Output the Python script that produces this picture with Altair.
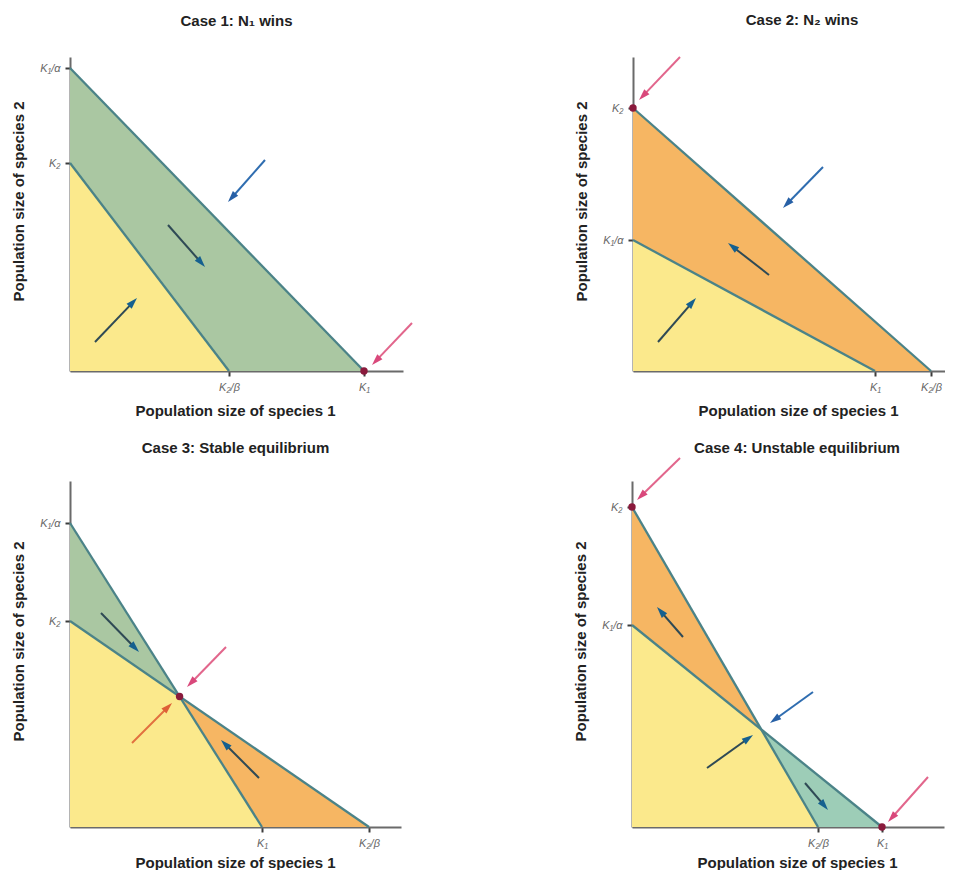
import math
import altair as alt
import pandas as pd

# ---------------- data (arbitrary population units) ----------------
TITLES = ["Case 1: N₁ wins", "Case 2: N₂ wins",
          "Case 3: Stable equilibrium", "Case 4: Unstable equilibrium"]
K1 = [294, 242, 192, 250]         # N1 isocline meets x axis
K1_ALPHA = [303, 131, 304, 202]   # N1 isocline meets y axis
K2 = [208, 263, 206, 320]         # N2 isocline meets y axis
K2_BETA = [159, 298, 299, 186]    # N2 isocline meets x axis
X_MAX = [333, 312, 331, 312]
Y_MAX = [314, 314, 346, 346]

# region fills, drawn in order: (panel, colour, polyline vertex names)
REGION_PANEL = [0, 0, 1, 1, 2, 2, 2, 3, 3, 3]
REGION_COLOR = ["green", "yellow", "orange", "yellow", "green", "orange", "yellow",
                "orange", "teal", "yellow"]
REGION_PATH = [["K1a", "K1"], ["K2", "K2b"],
               ["K2", "K2b"], ["K1a", "K1"],
               ["K1a", "EQ"], ["EQ", "K2b"], ["K2", "EQ", "K1"],
               ["K2", "EQ"], ["EQ", "K1"], ["K1a", "EQ", "K2b"]]
FILL = {"green": "#aac7a2", "yellow": "#fbe98c", "orange": "#f6b663", "teal": "#9dcdb7"}

# arrows
ARROW_PANEL = [0, 0, 0, 0, 1, 1, 1, 1, 2, 2, 2, 2, 3, 3, 3, 3, 3, 3]
ARROW_KIND = ["blue", "dark", "dark", "pink",
              "pink", "blue", "dark", "dark",
              "dark", "pink", "orange", "dark",
              "pink", "dark", "blue", "dark", "dark", "pink"]
ARROW_X0 = [195, 98, 25, 342, 47, 190, 136, 25, 31, 156, 62, 189, 48, 51, 181, 75, 173, 296]
ARROW_Y0 = [211, 146, 29, 48, 314, 204, 96, 29, 214, 180, 84, 49, 369, 190, 135, 59, 44, 50]
ARROW_X1 = [158, 135, 67, 302, 6, 150, 95, 63, 69, 117, 102, 151, 5, 25, 138, 121, 196, 256]
ARROW_Y1 = [169, 104, 73, 6, 271, 163, 128, 73, 175, 140, 124, 87, 327, 220, 104, 92, 17, 5]
SHAFT = {"blue": "#2f6db0", "dark": "#2f4a55", "pink": "#e2668c", "orange": "#e2703f"}
HEAD = {"blue": "#2760a6", "dark": "#15608f", "pink": "#d9487b", "orange": "#de5f36"}

# equilibrium / winner points
POINT_PANEL = [0, 1, 2, 3, 3]
POINT_AT = ["K1", "K2", "EQ", "K2", "K1"]

LINE_COLOR = "#4b8388"
POINT_COLOR = "#8a1a3c"
FONT = "Liberation Sans"
TITLE_OFFSET = [28, 28, 25, 1]
TITLE_DX = [0, 13, 0, 9]


def vertices(i):
    k1, k1a, k2, k2b = K1[i], K1_ALPHA[i], K2[i], K2_BETA[i]
    ex = (k1a - k2) / (k1a / k1 - k2 / k2b)
    ey = k2 * (1 - ex / k2b)
    return {"K1": (k1, 0), "K1a": (0, k1a), "K2": (0, k2), "K2b": (k2b, 0), "EQ": (ex, ey)}


def panel(i):
    v = vertices(i)
    xs = alt.Scale(domain=[0, X_MAX[i]], nice=False, zero=False)
    ys = alt.Scale(domain=[0, Y_MAX[i]], nice=False, zero=False)
    x_axis = alt.Axis(
        values=[K1[i], K2_BETA[i]],
        labelExpr=f"datum.value == {K1[i]} ? 'K₁' : 'K₂/β'",
        title="Population size of species 1",
        titleX=165, titleY=32 if i < 2 else 28,
    )
    y_axis = alt.Axis(
        values=[K1_ALPHA[i], K2[i]],
        labelExpr=f"datum.value == {K2[i]} ? 'K₂' : 'K₁/α'",
        title="Population size of species 2",
        titleX=-44, titleY=Y_MAX[i] / 2 - 13,
    )

    def X(f="x"):
        return alt.X(f"{f}:Q", scale=xs, axis=x_axis)

    def Y(f="y"):
        return alt.Y(f"{f}:Q", scale=ys, axis=y_axis)

    layers = []
    for r in range(len(REGION_PANEL)):
        if REGION_PANEL[r] != i:
            continue
        pts = [v[n] for n in REGION_PATH[r]]
        df = pd.DataFrame({"x": [p[0] for p in pts], "y": [p[1] for p in pts]})
        layers.append(
            alt.Chart(df).mark_area(color=FILL[REGION_COLOR[r]], opacity=1, clip=False)
            .encode(x=X(), y=alt.Y("y:Q", scale=ys, axis=y_axis, stack=None))
        )

    iso = pd.DataFrame({
        "x": [0, 0], "y": [K1_ALPHA[i], K2[i]],
        "x2": [K1[i], K2_BETA[i]], "y2": [0, 0],
    })
    layers.append(
        alt.Chart(iso).mark_rule(color=LINE_COLOR, strokeWidth=2.3)
        .encode(x=X(), y=Y(), x2="x2:Q", y2="y2:Q")
    )

    rows = []
    for a in range(len(ARROW_PANEL)):
        if ARROW_PANEL[a] != i:
            continue
        x0, y0, x1, y1 = ARROW_X0[a], ARROW_Y0[a], ARROW_X1[a], ARROW_Y1[a]
        dx, dy = x1 - x0, y1 - y0
        ln = math.hypot(dx, dy)
        ang = math.degrees(math.atan2(dx, dy)) % 360
        rows.append({
            "x": x0, "y": y0,
            "x2": x1 - dx / ln * 6, "y2": y1 - dy / ln * 6,
            "tx": x1, "ty": y1, "angle": ang,
            "shaft": SHAFT[ARROW_KIND[a]], "head": HEAD[ARROW_KIND[a]],
        })
    arr = pd.DataFrame(rows)
    layers.append(
        alt.Chart(arr).mark_rule(strokeWidth=2)
        .encode(x=X(), y=Y(), x2="x2:Q", y2="y2:Q",
                color=alt.Color("shaft:N", scale=None))
    )
    layers.append(
        alt.Chart(arr).mark_point(shape="M0,0L0.62,2L-0.62,2Z", size=130,
                                  filled=True, opacity=1, strokeWidth=0)
        .encode(x=X("tx"), y=Y("ty"),
                angle=alt.Angle("angle:Q", scale=None),
                color=alt.Color("head:N", scale=None))
    )

    pts = [v[POINT_AT[p]] for p in range(len(POINT_PANEL)) if POINT_PANEL[p] == i]
    pdf = pd.DataFrame({"x": [p[0] for p in pts], "y": [p[1] for p in pts]})
    layers.append(
        alt.Chart(pdf).mark_circle(size=55, color=POINT_COLOR, opacity=1)
        .encode(x=X(), y=Y())
    )

    return alt.layer(*layers).properties(
        width=X_MAX[i], height=Y_MAX[i],
        title=alt.TitleParams(
            TITLES[i], fontSize=15, fontWeight="bold", font=FONT, color="#222222",
            anchor="middle", frame="group", offset=TITLE_OFFSET[i], dx=TITLE_DX[i],
        ),
    )


row1 = alt.hconcat(panel(0), panel(1), spacing=161)
row2 = alt.hconcat(panel(2), panel(3), spacing=172)
chart = (
    alt.vconcat(row1, row2, spacing=22)
    .properties(padding={"left": 3, "top": 5, "right": 0, "bottom": 0})
    .configure_view(stroke=None)
    .configure_axis(
        grid=False,
        domainColor="#6a6a6a", domainWidth=2,
        tickColor="#3c3c3c", tickWidth=2, tickSize=5,
        labelFont=FONT, labelFontSize=11, labelColor="#666666", labelPadding=5,
        labelFontStyle="italic",
        titleFont=FONT, titleFontSize=15, titleFontWeight="bold", titleColor="#222222",
    )
)

chart.save("out.html", embed_options={"renderer": "svg", "actions": False})
